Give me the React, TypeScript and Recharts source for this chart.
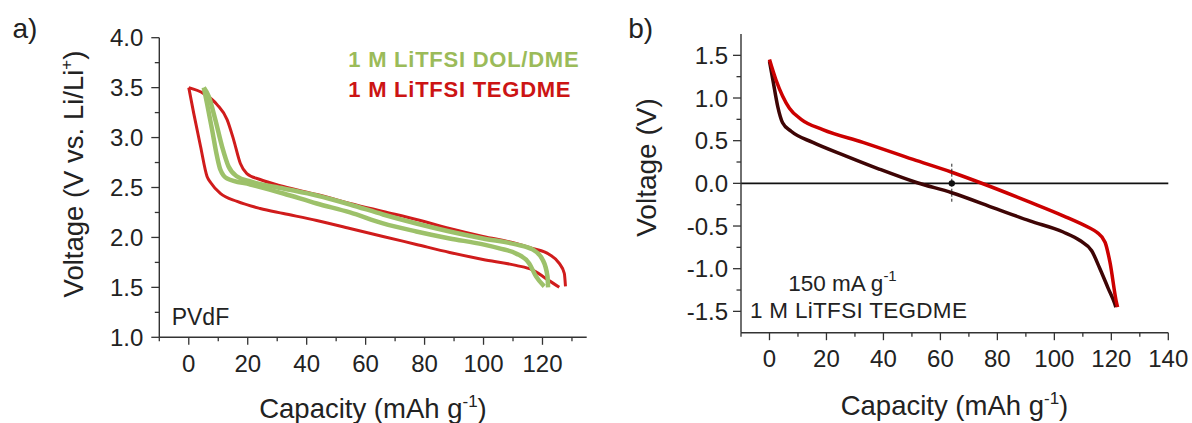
import React from 'react';
import { LineChart, Line, XAxis, YAxis, ReferenceLine, ReferenceDot } from 'recharts';

const FONT = '"Liberation Sans", Arial, sans-serif';
const AXIS = '#333333';
const TXT = '#222222';

// ---------- Panel a: ticks ----------
const aXMajor = [0, 20, 40, 60, 80, 100, 120];
const aXMinor = [-10, 10, 30, 50, 70, 90, 110, 130];
const aYMajor = [1.0, 1.5, 2.0, 2.5, 3.0, 3.5, 4.0];
const aYMinor = [1.25, 1.75, 2.25, 2.75, 3.25, 3.75];

// ---------- Panel a: data (1 M LiTFSI TEGDME, red) ----------
const redDisCap = [0, 1.7, 4.0, 6.2, 7.4, 10.7, 16.4, 24.2, 32.1, 43.4, 54.7, 65.9, 77.2, 88.5, 99.8, 111.0, 116.6, 121.1, 125.7];
const redDisV = [3.5, 3.24, 2.91, 2.61, 2.55, 2.44, 2.36, 2.29, 2.24, 2.17, 2.09, 2.01, 1.93, 1.85, 1.78, 1.72, 1.675, 1.59, 1.5];
const redChCap = [0, 5.1, 9.6, 13.0, 15.2, 17.5, 19.7, 24.2, 32.1, 43.4, 54.7, 65.9, 77.2, 88.5, 99.8, 111.0, 116.6, 122.3, 125.7, 127.4, 127.8];
const redChV = [3.5, 3.44, 3.33, 3.18, 2.98, 2.74, 2.64, 2.58, 2.51, 2.43, 2.34, 2.26, 2.18, 2.09, 2.01, 1.94, 1.89, 1.83, 1.74, 1.64, 1.51];

// ---------- Panel a: data (1 M LiTFSI DOL/DME, green) ----------
const grnDisCap = [5.1, 6.2, 7.9, 9.6, 10.7, 13.0, 20.9, 32.1, 43.4, 54.7, 65.9, 77.2, 88.5, 99.8, 105.4, 111.0, 115.5, 117.8, 120.6];
const grnDisV = [3.5, 3.34, 3.08, 2.81, 2.68, 2.59, 2.53, 2.44, 2.34, 2.25, 2.14, 2.06, 1.99, 1.93, 1.89, 1.84, 1.74, 1.61, 1.51];
const grnChCap = [5.1, 6.8, 9.0, 11.3, 13.5, 16.4, 20.9, 32.1, 43.4, 54.7, 65.9, 77.2, 88.5, 99.8, 111.0, 116.6, 120.0, 121.7, 121.9];
const grnChV = [3.5, 3.41, 3.18, 2.91, 2.71, 2.61, 2.56, 2.49, 2.42, 2.33, 2.23, 2.14, 2.06, 1.99, 1.93, 1.88, 1.78, 1.61, 1.5];

// ---------- Panel b: ticks ----------
const bXMajor = [0, 20, 40, 60, 80, 100, 120, 140];
const bXMinor = [-10, 10, 30, 50, 70, 90, 110, 130];
const bYMajor = [-1.5, -1.0, -0.5, 0.0, 0.5, 1.0, 1.5];
const bYMinor = [-1.25, -0.75, -0.25, 0.25, 0.75, 1.25];

// ---------- Panel b: data ----------
const bRedCap = [0, 2.3, 7.0, 11.1, 18.7, 32.8, 50.4, 64.0, 73.8, 91.4, 103.1, 111.9, 114.8, 117.8, 119.5, 121.9, 122.2];
const bRedV = [1.45, 1.21, 0.88, 0.75, 0.63, 0.48, 0.28, 0.13, 0.01, -0.22, -0.38, -0.515, -0.57, -0.69, -0.92, -1.41, -1.45];
const bDarkCap = [0, 1.2, 2.9, 4.6, 7.6, 15.2, 26.9, 38.7, 51.6, 64.0, 79.7, 91.4, 103.1, 109.0, 113.1, 116.0, 118.9, 121.2, 121.6];
const bDarkV = [1.43, 1.21, 0.9, 0.71, 0.61, 0.48, 0.32, 0.165, 0.01, -0.11, -0.3, -0.44, -0.57, -0.67, -0.79, -1.0, -1.23, -1.41, -1.45];
const bMarkCap = 64;
const bMarkV = 0;
const bMarkErr = 0.23;

const toPts = (cs: number[], vs: number[]) => cs.map((c, i) => ({ c, v: vs[i] }));
const sortNum = (a: number[]) => [...a].sort((p, q) => p - q);

const makeXTick = (majors: number[]) => (props: any) => {
  const { x, y, payload } = props;
  const v = payload.value;
  const major = majors.some((m) => Math.abs(m - v) < 1e-6);
  return (
    <g>
      <line x1={x} x2={x} y1={y} y2={y + (major ? 7.5 : 4)} stroke={AXIS} strokeWidth={1.3} />
      {major && (
        <text x={x} y={y + 34.5} textAnchor="middle" fontSize={24} fill={TXT} fontFamily={FONT}>
          {String(v)}
        </text>
      )}
    </g>
  );
};

const makeYTick = (majors: number[], gap: number) => (props: any) => {
  const { x, y, payload } = props;
  const v = payload.value;
  const major = majors.some((m) => Math.abs(m - v) < 1e-6);
  return (
    <g>
      <line x1={x} x2={x - (major ? 8 : 4.5)} y1={y} y2={y} stroke={AXIS} strokeWidth={1.3} />
      {major && (
        <text x={x - gap} y={y} dy="0.36em" textAnchor="end" fontSize={24} fill={TXT} fontFamily={FONT}>
          {v.toFixed(1)}
        </text>
      )}
    </g>
  );
};

const axisLine = { stroke: AXIS, strokeWidth: 1.4 };

function PanelA() {
  const xDomain: [number, number] = [-10, 135];
  const yDomain: [number, number] = [1, 4];
  return (
    <LineChart width={600} height={423} margin={{ top: 37.7, right: 13.3, left: 0, bottom: 45.7 }}>
      <XAxis dataKey="c" type="number" domain={xDomain} ticks={sortNum([...aXMajor, ...aXMinor])} interval={0}
        tickSize={0} tickMargin={0} tickLine={false} axisLine={axisLine} height={40} allowDataOverflow
        tick={makeXTick(aXMajor)} />
      <XAxis xAxisId="top" orientation="top" type="number" domain={xDomain} tick={false} tickLine={false}
        height={0} axisLine={axisLine} allowDataOverflow />
      <YAxis type="number" domain={yDomain} ticks={sortNum([...aYMajor, ...aYMinor])} interval={0}
        tickSize={0} tickMargin={0} tickLine={false} axisLine={axisLine} width={159.3} allowDataOverflow
        tick={makeYTick(aYMajor, 16)} />
      <YAxis yAxisId="right" orientation="right" type="number" domain={yDomain} tick={false} tickLine={false}
        width={0} axisLine={axisLine} allowDataOverflow />
      <Line data={toPts(redDisCap, redDisV)} dataKey="v" type="monotone" stroke="#D01C1C" strokeWidth={3}
        dot={false} isAnimationActive={false} />
      <Line data={toPts(redChCap, redChV)} dataKey="v" type="monotone" stroke="#D01C1C" strokeWidth={3}
        dot={false} isAnimationActive={false} />
      <Line data={toPts(grnDisCap, grnDisV)} dataKey="v" type="monotone" stroke="#9DC16A" strokeWidth={4.5}
        dot={false} isAnimationActive={false} />
      <Line data={toPts(grnChCap, grnChV)} dataKey="v" type="monotone" stroke="#9DC16A" strokeWidth={4.5}
        dot={false} isAnimationActive={false} />
    </LineChart>
  );
}

function PanelB() {
  const xDomain: [number, number] = [-10, 140];
  const yDomain: [number, number] = [-1.75, 1.75];
  return (
    <LineChart width={592} height={423} margin={{ top: 34, right: 23.7, left: 0, bottom: 50.3 }}>
      <XAxis dataKey="c" type="number" domain={xDomain} ticks={sortNum([...bXMajor, ...bXMinor])} interval={0}
        tickSize={0} tickMargin={0} tickLine={false} axisLine={axisLine} height={40} allowDataOverflow
        tick={makeXTick(bXMajor)} />
      <XAxis xAxisId="top" orientation="top" type="number" domain={xDomain} tick={false} tickLine={false}
        height={0} axisLine={axisLine} allowDataOverflow />
      <YAxis type="number" domain={yDomain} ticks={sortNum([...bYMajor, ...bYMinor])} interval={0}
        tickSize={0} tickMargin={0} tickLine={false} axisLine={axisLine} width={141} allowDataOverflow
        tick={makeYTick(bYMajor, 13)} />
      <YAxis yAxisId="right" orientation="right" type="number" domain={yDomain} tick={false} tickLine={false}
        width={0} axisLine={axisLine} allowDataOverflow />
      <ReferenceLine y={0} stroke="#111111" strokeWidth={1.6} />
      <Line data={toPts(bDarkCap, bDarkV)} dataKey="v" type="monotone" stroke="#3E0505" strokeWidth={3.5}
        dot={false} isAnimationActive={false} />
      <Line data={toPts(bRedCap, bRedV)} dataKey="v" type="monotone" stroke="#CC0000" strokeWidth={3.5}
        dot={false} isAnimationActive={false} />
      <ReferenceLine segment={[{ x: bMarkCap, y: bMarkV + bMarkErr }, { x: bMarkCap, y: bMarkV - bMarkErr }]}
        stroke="#222222" strokeWidth={1} strokeDasharray="3 2" />
      <ReferenceDot x={bMarkCap} y={bMarkV} r={3.2} fill="#111111" stroke="none" />
    </LineChart>
  );
}

function Overlay() {
  const t = { fontFamily: FONT, fill: TXT } as const;
  return (
    <svg width={1192} height={423} style={{ position: 'absolute', left: 0, top: 0, pointerEvents: 'none' }}>
      <text x={12.5} y={37.5} fontSize={28} {...t}>a)</text>
      <text x={628.3} y={37.5} fontSize={28} {...t}>b)</text>

      <text x={373} y={417.5} fontSize={27.5} textAnchor="middle" {...t}>
        Capacity (mAh g<tspan fontSize={17} dy={-11}>-1</tspan><tspan dy={11}>)</tspan>
      </text>
      <text x={954.5} y={414.5} fontSize={27.5} textAnchor="middle" {...t}>
        Capacity (mAh g<tspan fontSize={17} dy={-11}>-1</tspan><tspan dy={11}>)</tspan>
      </text>

      <text x={83} y={174} fontSize={27.5} textAnchor="middle" transform="rotate(-90 83 174)" {...t}>
        Voltage (V vs. Li/Li<tspan fontSize={17} dy={-11}>+</tspan><tspan dy={11}>)</tspan>
      </text>
      <text x={656} y={167.5} fontSize={28} textAnchor="middle" transform="rotate(-90 656 167.5)" {...t}>
        Voltage (V)
      </text>

      <text x={348.3} y={67.3} fontSize={22} fontWeight="bold" letterSpacing={0.75} fontFamily={FONT} fill="#9BBB59">
        1 M LiTFSI DOL/DME
      </text>
      <text x={348.3} y={96.5} fontSize={22} fontWeight="bold" letterSpacing={0.75} fontFamily={FONT} fill="#CC1414">
        1 M LiTFSI TEGDME
      </text>
      <text x={171.7} y={325} fontSize={23} {...t}>PVdF</text>

      <text x={788.3} y={291} fontSize={22.5} {...t}>
        150 mA g<tspan fontSize={15} dy={-10}>-1</tspan>
      </text>
      <text x={750} y={317.5} fontSize={22.5} letterSpacing={0.3} {...t}>1 M LiTFSI TEGDME</text>
    </svg>
  );
}

export default function App() {
  return (
    <div style={{ position: 'absolute', left: 0, top: 0, width: 1192, height: 423, background: '#ffffff', fontFamily: FONT }}>
      <div style={{ position: 'absolute', left: 0, top: 0 }}>
        <PanelA />
      </div>
      <div style={{ position: 'absolute', left: 600, top: 0 }}>
        <PanelB />
      </div>
      <Overlay />
    </div>
  );
}
